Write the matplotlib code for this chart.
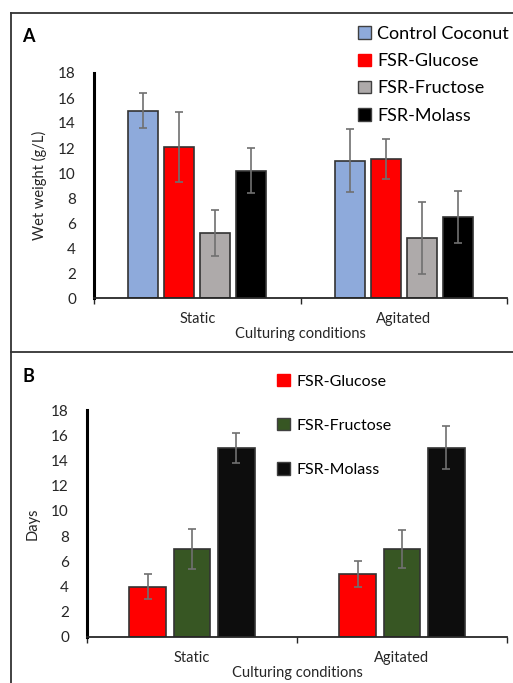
import matplotlib
matplotlib.use("Agg")
import matplotlib.pyplot as plt
from matplotlib.patches import Patch
from matplotlib.lines import Line2D

plt.rcParams['font.family'] = ['Lato', 'DejaVu Sans']

conditions = ["Static", "Agitated"]

# Panel A: wet weight (g/L)
seriesA = ["Control Coconut", "FSR-Glucose", "FSR-Fructose", "FSR-Molass"]
valuesA = {
    "Control Coconut": [15.0, 11.0],
    "FSR-Glucose": [12.1, 11.1],
    "FSR-Fructose": [5.2, 4.8],
    "FSR-Molass": [10.2, 6.5],
}
errorsA = {
    "Control Coconut": [1.4, 2.5],
    "FSR-Glucose": [2.8, 1.6],
    "FSR-Fructose": [1.85, 2.9],
    "FSR-Molass": [1.8, 2.1],
}
colorsA = ["#8eaadb", "#ff0000", "#aeaaaa", "#000000"]

# Panel B: days
seriesB = ["FSR-Glucose", "FSR-Fructose", "FSR-Molass"]
valuesB = {
    "FSR-Glucose": [4.0, 5.0],
    "FSR-Fructose": [7.0, 7.0],
    "FSR-Molass": [15.0, 15.0],
}
errorsB = {
    "FSR-Glucose": [1.0, 1.0],
    "FSR-Fructose": [1.6, 1.5],
    "FSR-Molass": [1.2, 1.7],
}
colorsB = ["#ff0000", "#375623", "#0d0d0d"]

yticks = [0, 2, 4, 6, 8, 10, 12, 14, 16, 18]

W, H = 513, 683
fig = plt.figure(figsize=(W / 100, H / 100), dpi=100)


def fx(px):
    return px / W


def fy(py):
    return 1 - py / H


def style_axes(ax, ylabel, xlabelpad):
    ax.set_xlim(-0.5, 1.5)
    ax.set_ylim(0, 18)
    ax.set_yticks(yticks)
    ax.tick_params(axis='y', length=0, pad=13, labelsize=11, colors='#262626')
    ax.set_xticks([-0.5, 0.5, 1.5])
    ax.set_xticklabels([])
    ax.set_xticks([0, 1], minor=True)
    ax.set_xticklabels(conditions, minor=True, fontsize=10.5, color='#262626')
    ax.tick_params(axis='x', which='major', length=4, width=1, color='#262626', direction='out')
    ax.tick_params(axis='x', which='minor', length=0, pad=10)
    for s in ['top', 'right']:
        ax.spines[s].set_visible(False)
    ax.spines['left'].set_linewidth(2.2)
    ax.spines['left'].set_color('black')
    ax.spines['bottom'].set_linewidth(1.3)
    ax.spines['bottom'].set_color('#262626')
    ax.set_ylabel(ylabel, fontsize=10.5, color='#262626', labelpad=8)
    ax.set_xlabel("Culturing conditions", fontsize=10.5, color='#262626', labelpad=xlabelpad)
    ax.patch.set_alpha(0)


# Panel A axes
axA = fig.add_axes([fx(94), fy(298), fx(507) - fx(94), fy(73) - fy(298)])
wA = 0.145
stepA = 0.174
for i, name in enumerate(seriesA):
    xs = [c + (i - 1.5) * stepA for c in range(len(conditions))]
    axA.bar(xs, valuesA[name], width=wA, color=colorsA[i], edgecolor='#333333',
            linewidth=1.2, zorder=2)
    axA.errorbar(xs, valuesA[name], yerr=errorsA[name], fmt='none', ecolor='#707070',
                 elinewidth=1.2, capsize=3, capthick=1.2, zorder=3)
style_axes(axA, "Wet weight (g/L)", 1)

# Panel B axes
axB = fig.add_axes([fx(87), fy(637), fx(507) - fx(87), fy(410) - fy(637)])
wB = 0.176
stepB = 0.21
for i, name in enumerate(seriesB):
    xs = [c + (i - 1) * stepB for c in range(len(conditions))]
    axB.bar(xs, valuesB[name], width=wB, color=colorsB[i], edgecolor='#333333',
            linewidth=1.2, zorder=2)
    axB.errorbar(xs, valuesB[name], yerr=errorsB[name], fmt='none', ecolor='#707070',
                 elinewidth=1.2, capsize=3, capthick=1.2, zorder=3)
style_axes(axB, "Days", 1)

# Panel frames
fig.add_artist(Line2D([fx(11), 1], [fy(13), fy(13)], color='#333333', lw=1.3))
fig.add_artist(Line2D([fx(11), 1], [fy(352), fy(352)], color='#333333', lw=1.3))
fig.add_artist(Line2D([fx(11), fx(11)], [fy(13), 0], color='#333333', lw=1.3))

# Panel letters
fig.text(fx(22), fy(36), "A", fontsize=13, fontweight='bold', va='center', ha='left')
fig.text(fx(22), fy(376), "B", fontsize=13, fontweight='bold', va='center', ha='left')

# Legend A
legA_handles = [Patch(facecolor=colorsA[i], edgecolor='#404040' if i != 1 else colorsA[i], linewidth=1)
                for i in range(len(seriesA))]
legA = fig.legend(legA_handles, seriesA, loc='upper left',
                  bbox_to_anchor=(fx(358), fy(26)), frameon=False, fontsize=13,
                  handlelength=0.7, handleheight=0.7, handletextpad=0.35,
                  labelspacing=0.62, borderpad=0, borderaxespad=0)

# Legend B
legB_handles = [Patch(facecolor=colorsB[i], edgecolor='#404040' if i != 0 else colorsB[i], linewidth=1)
                for i in range(len(seriesB))]
legB = fig.legend(legB_handles, seriesB, loc='upper left',
                  bbox_to_anchor=(fx(277), fy(374)), frameon=False, fontsize=11.5,
                  handlelength=0.8, handleheight=0.8, handletextpad=0.4,
                  labelspacing=1.85, borderpad=0, borderaxespad=0)

fig.savefig("out.png", dpi=100, facecolor='white')
